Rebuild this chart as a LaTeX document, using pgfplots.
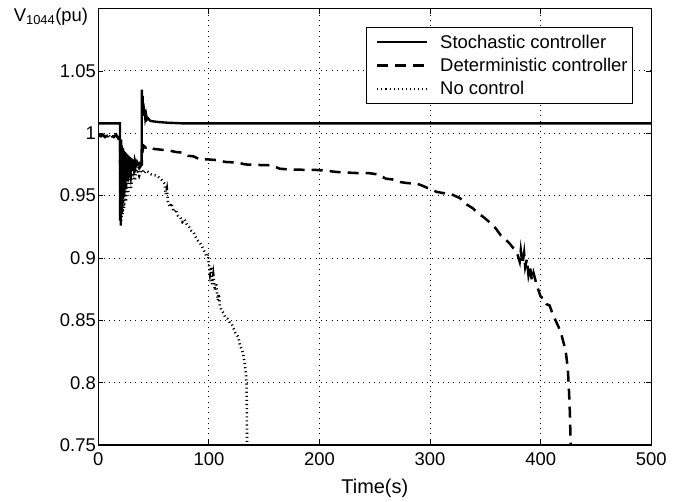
\documentclass[border=0pt]{standalone}
\usepackage{fontspec}
\setmainfont{Liberation Sans}
\usepackage{pgfplots}
\pgfplotsset{compat=1.18}

\newcommand{\bigf}{\fontsize{18.5}{22}\selectfont}

\begin{document}
\begin{tikzpicture}
\path[use as bounding box] (-98.3bp,-57bp) rectangle (585.7bp,445bp);
\begin{axis}[
  name=ax, at={(0,0)}, anchor=south west,
  width=553bp, height=436.4bp, scale only axis,
  xmin=0, xmax=500, ymin=0.75, ymax=1.1,
  xtick={0,100,...,500},
  ytick={0.75,0.8,0.85,0.9,0.95,1,1.05},
  yticklabels={0.75,0.8,0.85,0.9,0.95,1,1.05},
  tick align=inside, major tick length=5bp,
  tick style={black, line width=0.8bp},
  axis line style={line width=1.3bp},
  grid=major,
  major grid style={black, line width=0.9bp, dash pattern=on 1bp off 4.3bp},
  tick label style={font=\bigf},
  yticklabel style={xshift=1bp},
  xticklabel style={yshift=-4bp},
  label style={font=\fontsize{20}{24}\selectfont},
  /pgf/number format/assume math mode=true,
  xlabel={Time(s)},
  xlabel style={yshift=-7bp},
  legend style={at={(1,1)}, anchor=north east, xshift=-18bp, yshift=-18bp,
    draw=black, line width=1.3bp, inner xsep=3bp, inner ysep=5.5bp,
    font=\bigf, row sep=4.5bp},
  legend cell align=left,
  legend image code/.code={%
    \draw[#1] (8bp,0bp) -- (58bp,0bp);
    \path[draw=none,fill=none] (0bp,0bp) -- (69bp,0bp);},
]
\addplot[black, line width=2.4bp] coordinates {
(0,1.008) (19.6,1.008) (19.8,0.93) (20.0,0.99) (20.3,0.926) (20.6,0.995) (21.0,0.945)
(21.4,0.99) (21.8,0.95) (22.2,0.988) (22.6,0.955) (23.0,0.986) (23.5,0.958) (24.0,0.985)
(24.5,0.96) (25.0,0.984) (25.5,0.962) (26.0,0.983) (26.6,0.964) (27.2,0.982) (27.8,0.966)
(28.4,0.981) (29.0,0.968) (29.8,0.980) (30.6,0.970) (31.4,0.979) (32.2,0.972) (33.0,0.978)
(34.0,0.974) (35.0,0.977) (36.0,0.975) (37.0,0.976) (38.0,0.975) (39.2,0.975) (39.4,1.035)
(39.7,1.020) (40.0,1.030) (40.4,1.016) (40.8,1.024) (41.3,1.014) (41.8,1.019) (42.5,1.012)
(43.2,1.015) (44,1.011) (45,1.012) (47,1.010) (50,1.0095) (55,1.009) (62,1.0085) (75,1.008)
(500,1.008)};
\addlegendentry{Stochastic controller}
\addplot[black, line width=2.5bp, dash pattern=on 11bp off 7bp] coordinates {
(0,0.999) (2,0.998) (4,0.999) (6,0.997) (8,0.998) (10,0.996) (12,0.998) (14,0.997)
(16,0.999) (18,0.996) (19.7,0.998) (20.0,0.95) (20.4,0.985) (20.9,0.94) (21.4,0.98)
(22,0.945) (22.6,0.978) (23.3,0.95) (24,0.976) (25,0.955) (26,0.975) (27,0.96) (28,0.975)
(29.5,0.965) (31,0.975) (33,0.97) (35,0.975) (37,0.972) (39.3,0.975) (39.8,0.985) (41,0.99)
(43,0.9885) (46,0.9895) (50,0.9875) (55,0.987) (60,0.9865) (65,0.986) (70,0.985)
(76,0.9845) (81,0.982) (86,0.9815) (92,0.979) (100,0.979) (107,0.9785) (115,0.977)
(126,0.9765) (133,0.975) (140,0.9748) (148,0.9745) (157,0.9743) (164,0.9716) (172,0.971)
(179,0.9708) (190,0.9707) (197,0.9706) (206,0.970) (215,0.969) (225,0.9685) (236,0.968)
(245,0.968) (253,0.967) (260,0.9636) (266,0.963) (272,0.961) (280,0.960) (288,0.9596)
(293,0.958) (297,0.9564) (301,0.955) (306,0.953) (312,0.952) (318,0.9516) (322,0.950)
(327,0.948) (333,0.943) (339,0.9396) (343,0.936) (348,0.933) (352,0.930) (357,0.926)
(360,0.923) (364,0.918) (368,0.915) (372,0.9115) (376,0.907) (379,0.903) (381,0.897)
(382,0.906) (383.5,0.895) (385,0.904) (386,0.893) (387.5,0.899) (389,0.886) (390.5,0.892)
(392,0.882) (393.5,0.888) (396,0.8795) (398,0.874) (400,0.869) (403,0.867) (405,0.863)
(408,0.862) (410,0.857) (412.6,0.8515) (416,0.845) (418.6,0.839) (421,0.831) (422.5,0.826)
(424,0.815) (424.6,0.81) (425.5,0.795) (426,0.785) (426.6,0.77) (427,0.75)};
\addlegendentry{Deterministic controller}
\addplot[black, line width=2.6bp, dash pattern=on 1.1bp off 3bp] coordinates {
(0,0.998) (1.5,0.996) (3,0.999) (4.5,0.997) (6,0.998) (7.5,0.996) (9,0.999) (10.5,0.997)
(12,0.998) (13.5,0.996) (15,0.999) (16.5,0.997) (18,0.998) (19.7,0.996) (20.0,0.935)
(20.4,0.98) (20.9,0.93) (21.4,0.975) (22,0.935) (22.6,0.972) (23.3,0.94) (24,0.97)
(25,0.945) (26,0.968) (27,0.95) (28,0.968) (29.5,0.955) (31,0.97) (33,0.962) (35,0.971)
(37,0.966) (39,0.971) (41,0.968) (43,0.970) (45,0.969) (48,0.967) (50,0.9665) (53,0.966)
(56,0.9635) (58,0.962) (60,0.9595) (61,0.951) (62,0.955) (63,0.945) (64.8,0.941) (66,0.944)
(68,0.937) (70,0.939) (72,0.934) (74,0.933) (76,0.929) (78,0.931) (80,0.927) (82,0.925)
(84,0.922) (86,0.921) (88,0.917) (90,0.914) (92,0.912) (94,0.909) (96,0.905) (98,0.901)
(99,0.903) (100,0.895) (101,0.8875) (102,0.893) (103,0.879) (104,0.886) (105.4,0.874)
(106.5,0.880) (108,0.866) (109,0.871) (110,0.861) (111.5,0.858) (113,0.856) (115,0.852)
(117,0.851) (119,0.848) (120.5,0.8475) (122,0.844) (124,0.840) (126.5,0.8367) (128,0.830)
(130,0.826) (131,0.823) (132.5,0.815) (133.5,0.806) (134,0.799) (134.3,0.78) (134.5,0.75)};
\addlegendentry{No control}
\end{axis}
\node[anchor=east, font=\bigf, inner sep=0pt] at ([xshift=-10bp,yshift=-8bp]ax.north west)
  {V\textsubscript{1044}(pu)};
\end{tikzpicture}
\end{document}
